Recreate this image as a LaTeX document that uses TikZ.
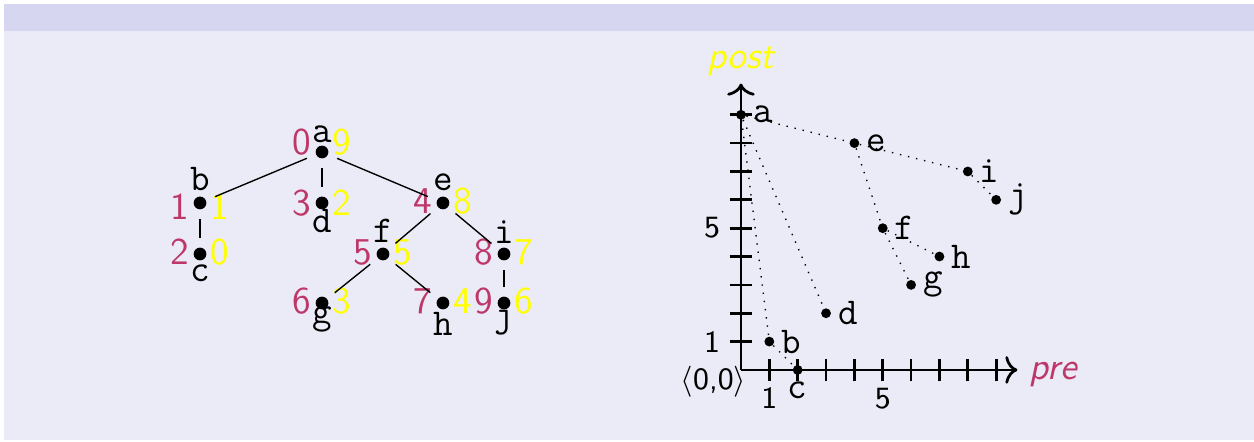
\documentclass[tikz,border=0pt]{standalone}
\usepackage{tikz}
\usetikzlibrary{arrows.meta,positioning}

\definecolor{struct}{RGB}{51,51,178}
\definecolor{premark}{RGB}{190,55,105}
\definecolor{postmark}{RGB}{255,255,0}

\tikzset{
    vert/.style={circle,minimum size=0.32cm,inner sep=0pt,
        path picture={\fill (path picture bounding box.center) circle (0.065cm);}},
    pt/.style={circle,fill,minimum size=0.1cm,inner sep=0pt},
    ltr/.style={font=\fontsize{11}{13}\selectfont\ttfamily,inner sep=1.7pt},
    prenum/.style={font=\fontsize{11}{13}\selectfont\sffamily,text=premark,inner sep=0pt,anchor=base},
    postnum/.style={prenum,text=postmark},
    ticklbl/.style={font=\fontsize{9}{11}\selectfont\sffamily,inner sep=0pt},
    axlbl/.style={font=\fontsize{11}{13}\selectfont\sffamily\itshape,inner sep=0pt},
    axis/.style={thick,-{To[length=3.5pt,width=8pt]}}
}

\begin{document}
\begin{tikzpicture}
    % Slide background
    \fill[white] (0,0) rectangle (12.796,4.510);
    \fill[struct!10] (0.041,0.02) rectangle (12.796,4.469);
    \fill[struct!20] (0.041,4.194) rectangle (12.796,4.469);
    \useasboundingbox (0,0) rectangle (12.796,4.510);

    % Tree with pre and post numbers
    \foreach \n/\x/\y/\ly/\pr/\po/\dy in {
        a/3.286/2.959/0.10/0/9/0.03,
        b/2.041/2.439/0.13/1/1/0.17,
        c/2.041/1.918/-0.28/2/0/0.11,
        d/3.286/2.439/-0.30/3/2/0.13,
        e/4.520/2.439/0.13/4/8/0.11,
        f/3.908/1.918/0.12/5/5/0.11,
        g/3.286/1.418/-0.21/6/3/0.11,
        h/4.520/1.418/-0.33/7/4/0.11,
        i/5.143/1.918/0.11/8/7/0.11,
        j/5.143/1.418/-0.24/9/6/0.11} {
        \node[vert] (\n) at (\x,\y) {};
        \node[ltr,inner sep=0pt,anchor=base] (\n-l) at ([yshift=\ly cm]\n.center) {\n};
        \node[prenum] (\n-pre) at ([shift={(-0.204,-\dy)}]\n.center) {\pr};
        \node[postnum] (\n-post) at ([shift={(0.204,-\dy)}]\n.center) {\po};
    }
    \foreach \u/\v in {a/b,a/d,a/e,b/c,e/f,e/i,f/g,f/h,i/j}
        \draw (\u) -- (\v);

    % Pre/post plane
    \begin{scope}[shift={(7.561,0.735)},x=0.2893cm,y=0.2893cm]
        \coordinate (o) at (0,0);
        \coordinate (xend) at (9.75,0);
        \coordinate (yend) at (0,10.1);
        \draw[axis] (o) -- (xend);
        \draw[axis] (o) -- (yend);
        \foreach \k in {1,...,9} {
            \draw[thick] (\k,-0.4) -- (\k,0.4);
            \draw[thick] (-0.4,\k) -- (0.4,\k);
        }
        \node[ticklbl,anchor=base] (x1) at (1,-1.37) {1};
        \node[ticklbl,anchor=base] (x5) at (5,-1.37) {5};
        \node[ticklbl] (y1) at (-1.02,1) {1};
        \node[ticklbl] (y5) at (-1.02,5) {5};
        \node[ticklbl] (orig) at (-0.97,-0.42) {$\langle$0,0$\rangle$};
        \node[axlbl,text=premark,anchor=base west] (prelbl) at ([shift={(0.12cm,-0.1cm)}]xend) {pre};
        \node[axlbl,text=postmark,anchor=base] (postlbl) at ([yshift=0.15cm]yend) {post};

        \node[pt,label={[ltr]right:a}] (pa) at (0,9) {};
        \node[pt,label={[ltr]right:b}] (pb) at (1,1) {};
        \node[pt,label={[ltr]below:c}] (pc) at (2,0) {};
        \node[pt,label={[ltr]right:d}] (pd) at (3,2) {};
        \node[pt,label={[ltr]right:e}] (pe) at (4,8) {};
        \node[pt,label={[ltr]right:f}] (pf) at (5,5) {};
        \node[pt,label={[ltr]right:g}] (pg) at (6,3) {};
        \node[pt,label={[ltr]right:h}] (ph) at (7,4) {};
        \node[pt,label={[ltr]right:i}] (pi) at (8,7) {};
        \node[pt,label={[ltr]right:j}] (pj) at (9,6) {};

        \foreach \u/\v in {a/b,b/c,a/d,a/e,e/f,f/g,f/h,e/i,i/j}
            \draw[dotted] (p\u) -- (p\v);
    \end{scope}
\end{tikzpicture}
\end{document}
